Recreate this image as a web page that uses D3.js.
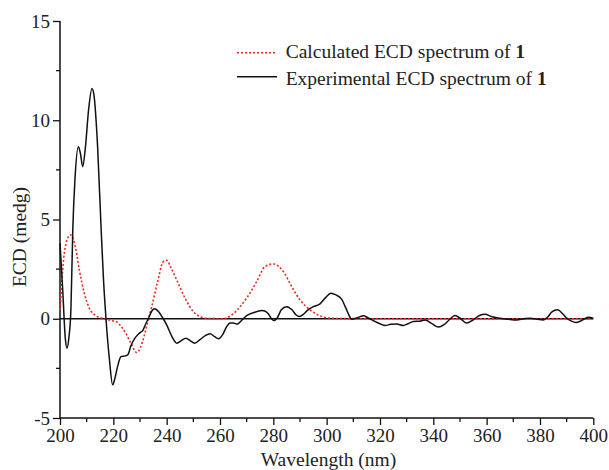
<!DOCTYPE html>
<html>
<head>
<meta charset="utf-8">
<script src="https://cdn.jsdelivr.net/npm/d3@7"></script>
<style>
  html, body { margin: 0; padding: 0; background: #fff; }
  svg text { font-family: "Liberation Serif", "Times New Roman", serif; fill: #222; }
</style>
</head>
<body>
<svg id="chart" width="609" height="470"></svg>
<script>
// ---- Data ----
const xTicks = [200, 220, 240, 260, 280, 300, 320, 340, 360, 380, 400];
const yTicks = [-5, 0, 5, 10, 15];
const yTickLabels = ["-5", "0", "5", "10", "15"];
const seriesNames = ["Calculated ECD spectrum of ", "Experimental ECD spectrum of "];

const calcWavelength = [200, 200.5, 201, 202.25, 203, 204.1, 205, 206, 207.25, 209.1, 211, 213.5, 216.6, 219, 221, 223, 224.5, 226.5, 228.75, 230, 231.5, 233, 234.4, 236.5, 238.75, 240, 241.5, 243.75, 246.9, 250, 253.1, 256, 261.25, 263, 265, 267.5, 270, 273.75, 276.9, 280, 283.75, 286.9, 290, 293.75, 297.5, 301.25, 305, 320, 360, 400];
const calcValues = [0.45, 1.4, 2.46, 3.8, 4.1, 4.22, 4.0, 3.47, 2.46, 1.29, 0.53, 0.15, 0.0, -0.08, -0.14, -0.4, -0.7, -1.2, -1.7, -1.5, -0.9, -0.1, 0.61, 1.8, 2.88, 2.95, 2.6, 1.96, 1.04, 0.36, 0.08, 0.01, 0.0, 0.08, 0.25, 0.6, 1.04, 1.87, 2.63, 2.76, 2.38, 1.62, 0.95, 0.45, 0.15, 0.03, 0.01, 0.0, 0.0, 0.0];

const expWavelength = [200, 201, 202, 202.6, 203.3, 204.1, 204.8, 205.6, 206.9, 207.7, 208.5, 209.5, 210.7, 212.0, 212.7, 214.1, 215.4, 216.3, 217.25, 218.5, 219.75, 220.6, 221.6, 222.9, 224.5, 225.5, 226.5, 228.1, 230, 231.2, 232, 233.1, 234.5, 235.5, 237, 238.5, 240, 242, 243.8, 245.5, 247.2, 248.8, 250.5, 252.5, 254.5, 256.25, 258, 259.4, 261, 262.5, 263.75, 265, 266.5, 268, 270, 272.5, 275.6, 277, 278.1, 279.3, 280.25, 281.5, 283, 285, 287, 288.5, 289.75, 291.5, 293, 295, 297.5, 299.5, 301.6, 303.5, 305.6, 307, 308.3, 309.4, 311.5, 313.75, 315.5, 317.5, 320, 321.9, 324, 326.25, 328.75, 330.5, 332.5, 335, 336.9, 339.5, 341.9, 344, 346, 348.1, 350.3, 352.5, 355, 357.5, 359.4, 362, 365, 368, 371.25, 374, 376.25, 379, 381.25, 383, 384.5, 386.6, 388.5, 390, 391.8, 393.5, 395.5, 398.1, 400];
const expValues = [3.8, 1.5, -1.0, -1.48, -1.0, 0.5, 4.5, 7.0, 8.67, 8.3, 7.66, 8.6, 10.5, 11.6, 11.3, 8.67, 4.6, 2.0, 0, -2.0, -3.33, -3.0, -2.4, -1.9, -1.87, -1.8, -1.4, -0.98, -0.7, -0.56, -0.3, 0, 0.4, 0.5, 0.35, 0.05, -0.31, -0.9, -1.23, -1.1, -0.98, -1.1, -1.23, -1.05, -0.85, -0.76, -0.9, -1.01, -0.8, -0.4, -0.22, -0.22, -0.27, -0.1, 0.16, 0.3, 0.41, 0.38, 0.25, 0.0, -0.09, 0.05, 0.45, 0.61, 0.45, 0.2, 0.11, 0.25, 0.45, 0.61, 0.75, 1.05, 1.29, 1.2, 0.99, 0.6, 0.2, -0.02, 0.05, 0.15, 0.05, -0.09, -0.25, -0.34, -0.28, -0.26, -0.34, -0.25, -0.14, -0.12, -0.06, -0.25, -0.42, -0.3, -0.05, 0.16, 0.0, -0.22, -0.05, 0.18, 0.23, 0.1, 0.03, -0.02, -0.06, 0.0, 0.03, -0.02, -0.06, 0.1, 0.35, 0.45, 0.25, 0.03, -0.12, -0.19, -0.1, 0.08, 0.03];

// ---- Layout ----
const svg = d3.select("#chart");
const x = d3.scaleLinear().domain([200, 400]).range([60, 593.3]);
const y = d3.scaleLinear().domain([-5, 15]).range([418, 21]);

const axisColor = "#111";

// X axis
const xMinor = d3.range(210, 400, 20);
const gx = svg.append("g").attr("transform", `translate(0,${y(-5)})`);
gx.call(d3.axisBottom(x).tickValues(xTicks).tickSize(7).tickPadding(3).tickFormat(d3.format("d")));
gx.selectAll(".tick").data(xMinor, function(){ return null; });
gx.select(".domain").attr("stroke", axisColor).attr("stroke-width", 1.5).attr("d", `M${x(200)},0H${x(400)}`);
gx.selectAll(".tick line").attr("stroke", axisColor).attr("stroke-width", 1.3);
gx.selectAll(".tick text").attr("font-size", "19px").attr("fill", "#222").attr("dy", "0.75em")
  .style("font-family", '"Liberation Serif", serif');
gx.selectAll(".minor").data(xMinor).enter().append("line")
  .attr("class", "minor").attr("x1", d => x(d)).attr("x2", d => x(d))
  .attr("y1", 0).attr("y2", 4).attr("stroke", axisColor).attr("stroke-width", 1.3);

// Y axis
const yMinor = [-2.5, 2.5, 7.5, 12.5];
const gy = svg.append("g").attr("transform", `translate(${x(200)},0)`);
gy.call(d3.axisLeft(y).tickValues(yTicks).tickSize(7).tickPadding(3).tickFormat((d, i) => yTickLabels[i]));
gy.select(".domain").attr("stroke", axisColor).attr("stroke-width", 1.5).attr("d", `M0,${y(-5)}V${y(15)}`);
gy.selectAll(".tick line").attr("stroke", axisColor).attr("stroke-width", 1.3);
gy.selectAll(".tick text").attr("font-size", "19px").attr("fill", "#222")
  .style("font-family", '"Liberation Serif", serif');
gy.selectAll(".minor").data(yMinor).enter().append("line")
  .attr("class", "minor").attr("y1", d => y(d)).attr("y2", d => y(d))
  .attr("x1", 0).attr("x2", -4).attr("stroke", axisColor).attr("stroke-width", 1.3);

// Zero line
svg.append("line")
  .attr("x1", x(200)).attr("x2", x(400)).attr("y1", y(0)).attr("y2", y(0))
  .attr("stroke", "#111").attr("stroke-width", 1.3);

// Curves
const line = d3.line().x(d => x(d[0])).y(d => y(d[1])).curve(d3.curveMonotoneX);
const calcData = calcWavelength.map((w, i) => [w, calcValues[i]]);
const expData = expWavelength.map((w, i) => [w, expValues[i]]);

svg.append("path").datum(calcData).attr("d", line)
  .attr("fill", "none").attr("stroke", "#ea2a1f").attr("stroke-width", 1.6)
  .attr("stroke-dasharray", "2,2");
svg.append("path").datum(expData).attr("d", line)
  .attr("fill", "none").attr("stroke", "#111").attr("stroke-width", 1.5);

// Axis titles
svg.append("text").attr("x", 328.5).attr("y", 465.5).attr("text-anchor", "middle")
  .attr("font-size", "19.5px").text("Wavelength (nm)");
svg.append("text").attr("transform", "translate(26,237) rotate(-90)").attr("text-anchor", "middle")
  .attr("font-size", "19.5px").text("ECD (medg)");

// Legend
const legend = [
  { name: seriesNames[0], y: 52.7, stroke: "#ea2a1f", dash: "2,2", ty: 58.3 },
  { name: seriesNames[1], y: 76.7, stroke: "#111", dash: null, ty: 85 }
];
legend.forEach(l => {
  svg.append("line").attr("x1", 237).attr("x2", 277).attr("y1", l.y).attr("y2", l.y)
    .attr("stroke", l.stroke).attr("stroke-width", 1.5).attr("stroke-dasharray", l.dash);
  const t = svg.append("text").attr("x", 285.7).attr("y", l.ty).attr("font-size", "19.5px");
  t.append("tspan").text(l.name);
  t.append("tspan").attr("font-weight", "bold").text("1");
});
</script>
</body>
</html>
